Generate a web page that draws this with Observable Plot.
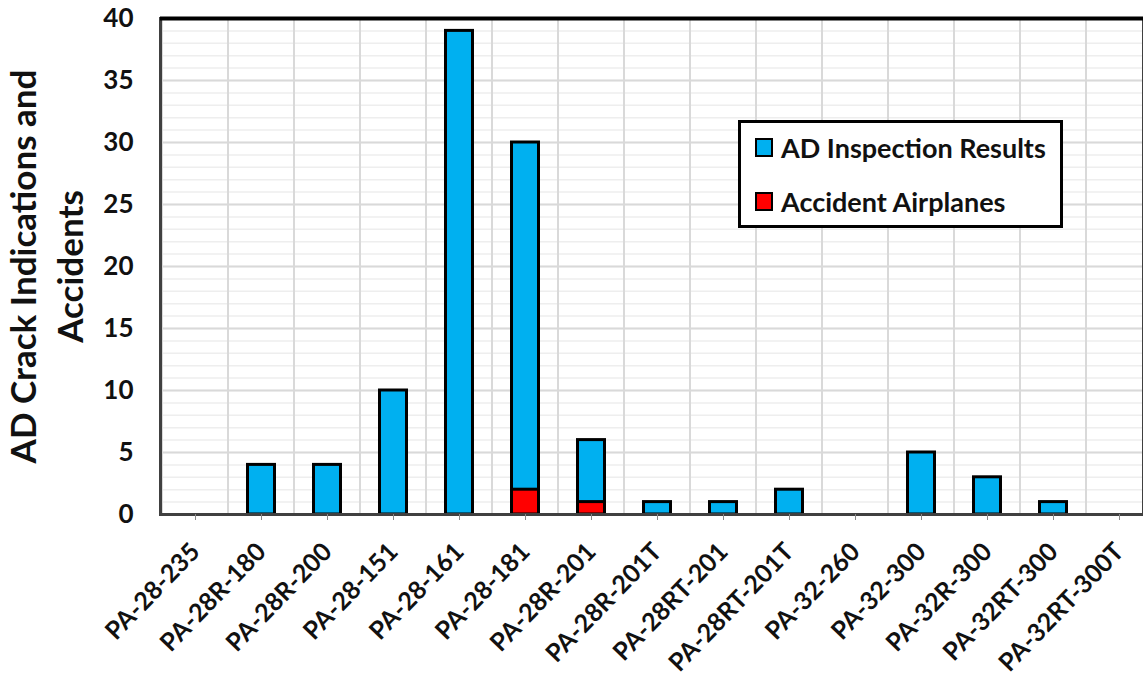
<!DOCTYPE html>
<html>
<head>
<meta charset="utf-8">
<script src="https://cdn.jsdelivr.net/npm/d3@7"></script>
<script src="https://cdn.jsdelivr.net/npm/@observablehq/plot@0.6"></script>
<style>
  html, body { margin: 0; padding: 0; background: #fff; overflow: hidden; }
  #wrap { position: relative; width: 1143px; height: 679px; font-family: Lato, "Open Sans", sans-serif; }
  #legend { position: absolute; left: 738px; top: 120px; width: 319px; height: 102px; border: 3px solid #000; background: #fff; box-sizing: content-box; }
  .item { position: absolute; left: 14px; display: flex; align-items: center; font-weight: 700; font-size: 27px; color: #111; white-space: nowrap; }
  .sw { width: 14px; height: 15px; border: 2px solid #000; margin-right: 8px; }
</style>
</head>
<body>
<div id="wrap">
  <div id="chart"></div>
  <div id="legend"></div>
</div>
<script>
const models = ["PA-28-235","PA-28R-180","PA-28R-200","PA-28-151","PA-28-161","PA-28-181","PA-28R-201","PA-28R-201T","PA-28RT-201","PA-28RT-201T","PA-32-260","PA-32-300","PA-32R-300","PA-32RT-300","PA-32RT-300T"];
const inspection = [0,4,4,10,39,30,6,1,1,2,0,5,3,1,0];
const accidents = [0,0,0,0,0,2,1,0,0,0,0,0,0,0,0];
const seriesNames = ["AD Inspection Results","Accident Airplanes"];
const seriesColors = ["#00B0F0","#FF0000"];
const yTicks = d3.range(0, 41, 5);
const yMinor = d3.range(0, 41, 1);
const yTitle = "AD Crack Indications and\nAccidents";

const data = models.map((m, i) => ({model: m, inspection: inspection[i], accidents: accidents[i]}));

const chart = Plot.plot({
  width: 1143,
  height: 679,
  marginLeft: 160,
  marginTop: 18,
  marginBottom: 165,
  marginRight: 0,
  style: {fontFamily: "Lato, 'Open Sans', sans-serif", fontWeight: 700, color: "#111", background: "#fff"},
  x: {domain: models, range: [160, 1153], padding: 0},
  y: {domain: [0, 40]},
  marks: [
    Plot.ruleY(yMinor, {stroke: "#eeeeee", strokeWidth: 1.5}),
    Plot.ruleY(yTicks, {stroke: "#d9d9d9", strokeWidth: 2}),
    Plot.barY(models, {x: d => d, y1: 0, y2: 40, fill: "none", stroke: "#d9d9d9", strokeWidth: 2}),
    Plot.barY(data.filter(d => d.inspection > 0), {x: "model", y: "inspection", fill: seriesColors[0], stroke: "#000", strokeWidth: 3, insetLeft: 19.5, insetRight: 19.5}),
    Plot.barY(data.filter(d => d.accidents > 0), {x: "model", y: "accidents", fill: seriesColors[1], stroke: "#000", strokeWidth: 3, insetLeft: 19.5, insetRight: 19.5}),
    Plot.frame({stroke: "#404040", strokeWidth: 3}),
    Plot.ruleY([40], {stroke: "#000", strokeWidth: 4}),
    Plot.axisY({ticks: yTicks, tickSize: 0, tickPadding: 27, fontSize: 26, fontWeight: 700, label: null}),
    Plot.axisX({tickSize: 6, stroke: "#888", tickRotate: -46, tickPadding: 27, fontSize: 25, fontWeight: 700, label: null}),
    Plot.text([yTitle], {frameAnchor: "left", dx: -116, rotate: -90, fontSize: 35, fontWeight: 700, lineHeight: 1.34, textAnchor: "middle", lineAnchor: "middle", fill: "#111"})
  ]
});
document.getElementById("chart").appendChild(chart);

const legend = document.getElementById("legend");
seriesNames.forEach((name, i) => {
  const item = document.createElement("div");
  item.className = "item";
  item.style.top = (i === 0 ? 8 : 62) + "px";
  const sw = document.createElement("div");
  sw.className = "sw";
  sw.style.background = seriesColors[i];
  const t = document.createElement("span");
  t.textContent = name;
  item.appendChild(sw);
  item.appendChild(t);
  legend.appendChild(item);
});
</script>
</body>
</html>
